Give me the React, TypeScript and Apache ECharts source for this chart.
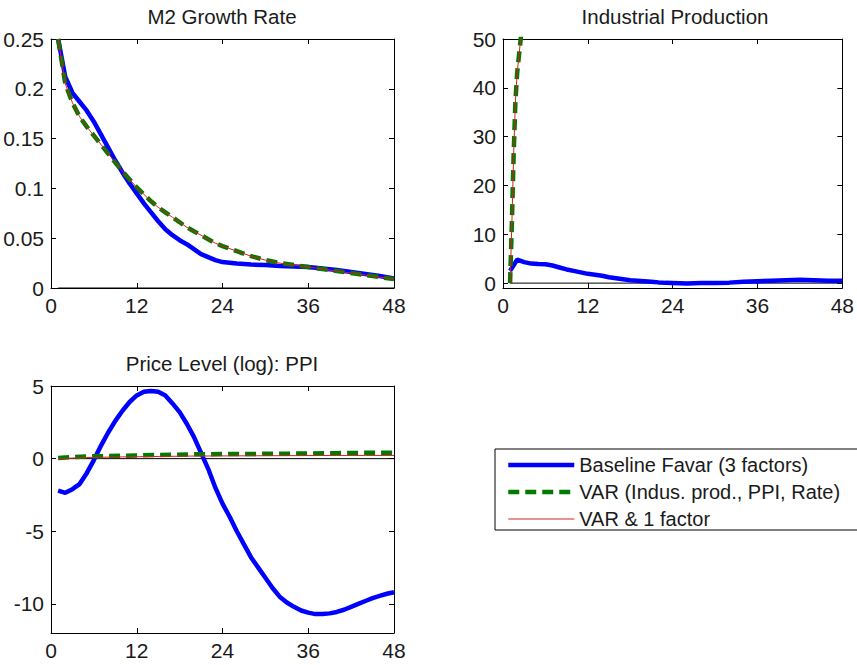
import React, { useEffect, useRef } from "react";
import * as echarts from "echarts";

// ---------- Data ----------
const xTicks = [0, 12, 24, 36, 48];

// Panel 1: M2 Growth Rate
const m2BaseMonths = [1, 2, 3, 4, 5, 6, 7, 8, 9, 10, 11, 12, 13, 14, 15, 16, 17, 18, 19, 20, 21, 22, 23, 24, 26, 28, 30, 32, 34, 36, 38, 40, 42, 44, 46, 48];
const m2BaseValues = [0.25, 0.212, 0.196, 0.187, 0.178, 0.167, 0.154, 0.141, 0.128, 0.116, 0.105, 0.095, 0.085, 0.076, 0.067, 0.059, 0.053, 0.048, 0.044, 0.039, 0.034, 0.031, 0.028, 0.026, 0.0245, 0.0235, 0.023, 0.022, 0.0215, 0.021, 0.0195, 0.018, 0.016, 0.014, 0.012, 0.0095];
const m2VarMonths = [1, 2, 3, 4, 5, 6, 7, 8, 9, 10, 11, 12, 13, 14, 15, 16, 17, 18, 19, 20, 21, 22, 23, 24, 26, 28, 30, 32, 34, 36, 38, 40, 42, 44, 46, 48];
const m2VarValues = [0.25, 0.205, 0.186, 0.172, 0.162, 0.153, 0.144, 0.135, 0.126, 0.117, 0.109, 0.101, 0.094, 0.087, 0.081, 0.076, 0.071, 0.066, 0.061, 0.057, 0.053, 0.049, 0.045, 0.042, 0.037, 0.032, 0.028, 0.025, 0.023, 0.021, 0.019, 0.017, 0.015, 0.013, 0.011, 0.009];
const m2Var1fValues = [0.25, 0.205, 0.186, 0.172, 0.162, 0.153, 0.144, 0.135, 0.126, 0.117, 0.109, 0.101, 0.094, 0.087, 0.081, 0.076, 0.071, 0.066, 0.061, 0.057, 0.053, 0.049, 0.045, 0.042, 0.037, 0.032, 0.028, 0.025, 0.023, 0.021, 0.019, 0.017, 0.015, 0.013, 0.011, 0.009];
const m2YTicks = [0, 0.05, 0.1, 0.15, 0.2, 0.25];

// Panel 2: Industrial Production
const ipBaseMonths = [1, 2, 3, 4, 5, 6, 7, 8, 9, 10, 11, 12, 13, 14, 15, 16, 17, 18, 19, 20, 21, 22, 23, 24, 26, 28, 30, 32, 34, 36, 38, 40, 42, 44, 46, 48];
const ipBaseValues = [2.5, 4.8, 4.3, 4.0, 3.9, 3.85, 3.6, 3.2, 2.8, 2.5, 2.2, 1.9, 1.7, 1.5, 1.2, 1.0, 0.8, 0.6, 0.5, 0.4, 0.3, 0.15, 0.05, 0, -0.1, 0, 0, 0.1, 0.3, 0.4, 0.5, 0.6, 0.7, 0.6, 0.5, 0.5];
const ipVarMonths = [1, 1.25, 1.5, 1.75, 2, 2.5, 3];
const ipVarValues = [0, 12, 26, 37, 43, 50, 56];
const ipVar1fMonths = [1, 1.25, 1.5, 1.75, 2, 2.5, 3];
const ipVar1fValues = [0, 12, 26, 37, 43, 50, 56];
const ipYTicks = [0, 10, 20, 30, 40, 50];

// Panel 3: Price Level (log): PPI
const ppiBaseMonths = [1, 2, 3, 4, 5, 6, 7, 8, 9, 10, 11, 12, 13, 14, 15, 16, 17, 18, 19, 20, 21, 22, 23, 24, 25, 26, 27, 28, 29, 30, 31, 32, 33, 34, 35, 36, 37, 38, 39, 40, 41, 42, 43, 44, 45, 46, 47, 48];
const ppiBaseValues = [-2.2, -2.35, -2.1, -1.75, -1.0, -0.1, 0.9, 1.8, 2.6, 3.3, 3.9, 4.35, 4.6, 4.65, 4.6, 4.35, 3.8, 3.2, 2.4, 1.5, 0.4, -0.7, -2.0, -3.1, -4.0, -5.0, -5.9, -6.8, -7.5, -8.2, -8.9, -9.5, -9.9, -10.2, -10.45, -10.6, -10.7, -10.7, -10.65, -10.55, -10.4, -10.2, -10.0, -9.8, -9.6, -9.45, -9.3, -9.2];
const ppiVarMonths = [1, 5, 10, 15, 20, 25, 30, 35, 40, 44, 48];
const ppiVarValues = [0.05, 0.15, 0.2, 0.25, 0.3, 0.32, 0.33, 0.35, 0.38, 0.4, 0.4];
const ppiVar1fMonths = [1, 5, 10, 15, 20, 25, 30, 35, 40, 44, 48];
const ppiVar1fValues = [0.0, 0.08, 0.12, 0.15, 0.18, 0.19, 0.2, 0.21, 0.22, 0.22, 0.22];
const ppiYTicks = [-10, -5, 0, 5];

const zeroMonths = [1, 48];
const zeroValues = [0, 0];

const titles = ["M2 Growth Rate", "Industrial Production", "Price Level (log): PPI"];
const seriesNames = ["Baseline Favar (3 factors)", "VAR (Indus. prod., PPI, Rate)", "VAR & 1 factor"];

// ---------- Helpers ----------
const pairs = (xs: number[], ys: number[]) => xs.map((x, i) => [x, ys[i]]);
const FONT = "'Liberation Sans', Arial, Helvetica, sans-serif";
const BLUE = "#0000ff";
const GREEN = "#007a00";
const RED = "#d42020";

export default function App() {
  const ref = useRef<HTMLDivElement>(null);

  useEffect(() => {
    if (!ref.current) return;
    const chart = echarts.init(ref.current, null, { renderer: "svg" });

    const grids = [
      { left: 51, top: 39, width: 343, height: 249 },
      { left: 503, top: 39, width: 344, height: 249 },
      { left: 51, top: 386, width: 343, height: 247 },
    ];
    const yRanges = [
      { min: 0, max: 0.25, ticks: m2YTicks },
      { min: -1, max: 50, ticks: ipYTicks },
      { min: -12, max: 5, ticks: ppiYTicks },
    ];

    const lineAx = { show: true, onZero: false, lineStyle: { color: "#000", width: 1 } };
    const labelStyle = { fontSize: 21, fontFamily: FONT, color: "#1a1a1a" };

    const xAxis: any[] = [];
    const yAxis: any[] = [];
    grids.forEach((_, i) => {
      xAxis.push({
        type: "value", gridIndex: i, position: "bottom", min: 0, max: 48, interval: 12,
        axisLine: lineAx,
        axisTick: { show: true, inside: true, length: 5, lineStyle: { color: "#000" } },
        axisLabel: { ...labelStyle, margin: 7, customValues: xTicks },
        splitLine: { show: false },
      });
      xAxis.push({
        type: "value", gridIndex: i, position: "top", min: 0, max: 48, interval: 12,
        axisLine: lineAx,
        axisTick: { show: true, inside: true, length: 5, lineStyle: { color: "#000" } },
        axisLabel: { show: false },
        splitLine: { show: false },
      });
      const yr = yRanges[i];
      yAxis.push({
        type: "value", gridIndex: i, position: "left", min: yr.min, max: yr.max,
        axisLine: lineAx,
        axisTick: { show: true, inside: true, length: 5, lineStyle: { color: "#000" }, customValues: yr.ticks },
        axisLabel: { ...labelStyle, margin: 7, customValues: yr.ticks },
        splitLine: { show: false },
      });
      yAxis.push({
        type: "value", gridIndex: i, position: "right", min: yr.min, max: yr.max,
        axisLine: lineAx,
        axisTick: { show: true, inside: true, length: 5, lineStyle: { color: "#000" }, customValues: yr.ticks },
        axisLabel: { show: false },
        splitLine: { show: false },
      });
    });

    const panels = [
      { base: pairs(m2BaseMonths, m2BaseValues), v: pairs(m2VarMonths, m2VarValues), v1: pairs(m2VarMonths, m2Var1fValues) },
      { base: pairs(ipBaseMonths, ipBaseValues), v: pairs(ipVarMonths, ipVarValues), v1: pairs(ipVar1fMonths, ipVar1fValues) },
      { base: pairs(ppiBaseMonths, ppiBaseValues), v: pairs(ppiVarMonths, ppiVarValues), v1: pairs(ppiVar1fMonths, ppiVar1fValues) },
    ];

    const series: any[] = [];
    panels.forEach((p, i) => {
      const common = { type: "line", xAxisIndex: 2 * i, yAxisIndex: 2 * i, symbol: "none", showSymbol: false, silent: true, clip: true };
      series.push({ ...common, name: "zero", data: pairs(zeroMonths, zeroValues), lineStyle: { color: "#000", width: 1 } });
      series.push({ ...common, name: seriesNames[0], data: p.base, lineStyle: { color: BLUE, width: 4.5 }, itemStyle: { color: BLUE } });
      series.push({ ...common, name: seriesNames[1], data: p.v, lineStyle: { color: GREEN, width: 4.5, type: [11, 6] }, itemStyle: { color: GREEN } });
      series.push({ ...common, name: seriesNames[2], data: p.v1, lineStyle: { color: RED, width: 1 }, itemStyle: { color: RED } });
    });

    const titlePos = [
      { x: 222, y: 16 },
      { x: 675, y: 16 },
      { x: 222, y: 363 },
    ];

    chart.setOption({
      animation: false,
      grid: grids,
      xAxis,
      yAxis,
      series,
      legend: {
        data: [
          { name: seriesNames[0], lineStyle: { width: 4.5 } },
          { name: seriesNames[1], lineStyle: { width: 4.5 } },
          { name: seriesNames[2], lineStyle: { width: 1 } },
        ],
        orient: "vertical",
        left: 495,
        top: 449,
        itemWidth: 66,
        itemHeight: 14,
        itemGap: 7,
        padding: [6, 40, 1, 11],
        borderColor: "#000",
        borderWidth: 1,
        selectedMode: false,
        itemStyle: { opacity: 0 },
        textStyle: { fontSize: 20, fontFamily: FONT, color: "#1a1a1a" },
      },
      graphic: titles.map((t, i) => ({
        type: "text",
        x: titlePos[i].x,
        y: titlePos[i].y,
        style: { text: t, align: "center", verticalAlign: "middle", fontSize: 20.5, fontFamily: FONT, fill: "#1a1a1a" },
      })),
    });

    return () => chart.dispose();
  }, []);

  return <div ref={ref} style={{ position: "absolute", left: 0, top: 0, width: 857, height: 665, background: "#fff" }} />;
}
